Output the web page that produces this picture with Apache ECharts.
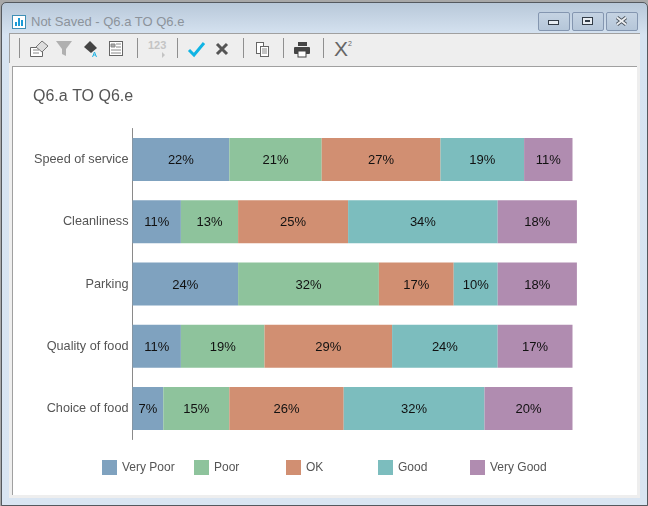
<!DOCTYPE html>
<html>
<head>
<meta charset="utf-8">
<title>Q6.a TO Q6.e</title>
<script src="https://cdn.jsdelivr.net/npm/echarts@6/dist/echarts.min.js"></script>
<style>
html,body{margin:0;padding:0;background:#fff;}
#win{position:absolute;left:0;top:0;width:648px;height:506px;overflow:hidden;background:#a8a8a8;font-family:"Liberation Sans",Arial,sans-serif;}
/* window frame */
#frame{position:absolute;left:1px;top:2px;width:645px;height:502px;border:1px solid #55595e;border-radius:5px 5px 0 0;background:linear-gradient(#b8c8d9 0,#d6e3f1 32px,#d9e5f2 100%);}
#titlebar{position:absolute;left:31px;top:14px;font-size:13px;color:#8c939b;white-space:nowrap;}
.btn{position:absolute;top:12px;width:30px;height:17px;border:1px solid #8496b0;border-radius:2px;background:linear-gradient(#c5d3e2,#b5c6d9);}
#toolbar{position:absolute;left:9px;top:33px;width:630px;height:29px;background:#eeeeee;border-top:1px solid #a0a0a0;border-left:1px solid #a0a0a0;}
#lower{position:absolute;left:9px;top:63px;width:631px;height:435px;background:#eeeeee;}
#line{position:absolute;left:12px;top:66px;width:625px;height:429px;background:#a0a0a0;}
#chart{position:absolute;left:13px;top:67px;width:624px;height:428px;background:#fff;}
.sep{position:absolute;top:38px;width:1px;height:20px;background:#8f8f8f;}
svg.abs{position:absolute;left:0;top:0;}
.tool{position:absolute;white-space:nowrap;}
</style>
</head>
<body>
<div id="win">
  <div id="frame"></div>
  <div id="toolbar"></div>
  <div id="lower"></div>
  <div id="line"></div>
  <div id="titlebar">Not Saved - Q6.a TO Q6.e</div>
  <div class="btn" style="left:538px"></div>
  <div class="btn" style="left:572px"></div>
  <div class="btn" style="left:606px"></div>
  <div class="sep" style="left:19px"></div>
  <div class="sep" style="left:137px"></div>
  <div class="sep" style="left:177px"></div>
  <div class="sep" style="left:243px"></div>
  <div class="sep" style="left:283px"></div>
  <div class="sep" style="left:323px"></div>
  <div class="tool" style="left:148px;top:39px;font-size:11px;font-weight:bold;color:#c4c4c4;">123</div>
  <div class="tool" style="left:334px;top:37px;font-size:21px;color:#666;">X<span style="font-size:7px;vertical-align:10px;">2</span></div>
  <svg class="abs" width="648" height="506">
    <!-- app icon -->
    <rect x="12.5" y="15.5" width="13" height="13" fill="#fff" stroke="#3f8fb5"/>
    <path d="M15 26v-4h2v4zM18 26v-8h2v8zM21 26v-6h2v6z" fill="#1b9ad6"/>
    <!-- window buttons -->
    <rect x="548.5" y="20.5" width="10" height="4" fill="#e8edf2" stroke="#333c46"/>
    <rect x="582.5" y="17.5" width="10" height="7" fill="#e8edf2" stroke="#333c46"/>
    <rect x="585" y="20" width="5" height="2" fill="#333c46"/>
    <path d="M617 17.5l9 7M626 17.5l-9 7" stroke="#4a525b" stroke-width="3.5"/>
    <path d="M617 17.5l9 7M626 17.5l-9 7" stroke="#eef1f4" stroke-width="1.8"/>
    <!-- toolbar icons -->
    <path d="M30.5 47.5h9l3 3v6h-12z" fill="#fff" stroke="#666"/>
    <path d="M33 50h6M33 53h6" stroke="#888"/>
    <path d="M36 47l6-6 6 5-6 6z" fill="#ddd" stroke="#777"/>
    <path d="M56 41h16l-6 8v7l-4-2v-5z" fill="#b0b0b0"/>
    <path d="M90 41l7 7-6 5-7-6z" fill="#444"/>
    <path d="M94.5 52l2 5M94.5 52l-2 5M93 55h3" fill="none" stroke="#25b3e2"/>
    <rect x="109.5" y="41.5" width="13" height="14" fill="#fff" stroke="#666"/>
    <path d="M111 44h4v3h-4zM116 44h5M116 47h5M111 50h10M111 53h10" stroke="#888" fill="#aaa"/>
    <path d="M162 52l3 3-3 3z" fill="#c4c4c4"/>
    <path d="M189 50l5 5 10-12" fill="none" stroke="#10b4e4" stroke-width="3"/>
    <path d="M217 44l10 10M227 44l-10 10" stroke="#555" stroke-width="3"/>
    <rect x="256.5" y="42.5" width="7" height="11" fill="#fff" stroke="#666"/>
    <rect x="260.5" y="46.5" width="8" height="10" fill="#fff" stroke="#666"/>
    <path d="M262 49h5M262 51h5M262 53h5" stroke="#888"/>
    <rect x="298" y="42" width="9" height="4" fill="#444"/>
    <rect x="294" y="47" width="16" height="7" rx="1" fill="#444"/>
    <rect x="298" y="51" width="8" height="6" fill="#fff" stroke="#444"/>
  </svg>
  <div id="chart"></div>
</div>
<script>
var categories = ["Speed of service","Cleanliness","Parking","Quality of food","Choice of food"];
var seriesNames = ["Very Poor","Poor","OK","Good","Very Good"];
var colors = ["#7fa2bf","#8ec39c","#d18f72","#7cbdbe","#b08cb0"];
var veryPoor = [22,11,24,11,7];
var poor = [21,13,32,19,15];
var ok = [27,25,17,29,26];
var good = [19,34,10,24,32];
var veryGood = [11,18,18,17,20];
var values = [veryPoor,poor,ok,good,veryGood];

var chart = echarts.init(document.getElementById('chart'));
var font = '"Liberation Sans",Arial,sans-serif';

var option = {
	animation: false,
	title: {
		text: 'Q6.a TO Q6.e',
		left: 15,
		top: 17,
		textStyle: {fontSize: 16, fontWeight: 'normal', color: '#555', fontFamily: font}
	},
	// each legend entry sits on a fixed 92px step
	legend: seriesNames.map(function (name, i) {
		return {
			data: [name],
			left: 89 + 92 * i,
			top: 393,
			padding: 0,
			itemWidth: 15,
			itemHeight: 15,
			icon: 'rect',
			selectedMode: false,
			textStyle: {fontSize: 12, color: '#555', fontFamily: font}
		};
	}),
	grid: {left: 119.5, top: 61.5, width: 484, height: 311},
	xAxis: {type: 'value', min: 0, max: 110, show: false},
	yAxis: {
		type: 'category',
		inverse: true,
		data: categories,
		axisLine: {lineStyle: {color: '#8a8a8a'}},
		axisTick: {show: false},
		axisLabel: {fontSize: 12.7, margin: 4, padding: [3, 0, 0, 0], color: '#555', fontFamily: font}
	},
	series: seriesNames.map(function (name, i) {
		return {
			name: name,
			type: 'bar',
			stack: 'total',
			barWidth: 43,
			data: values[i],
			itemStyle: {color: colors[i]},
			label: {
				show: true,
				position: 'inside',
				offset: [0, 1],
				formatter: '{c}%',
				fontSize: 13,
				color: '#111',
				fontFamily: font
			}
		};
	})
};
chart.setOption(option);
</script>
</body>
</html>
